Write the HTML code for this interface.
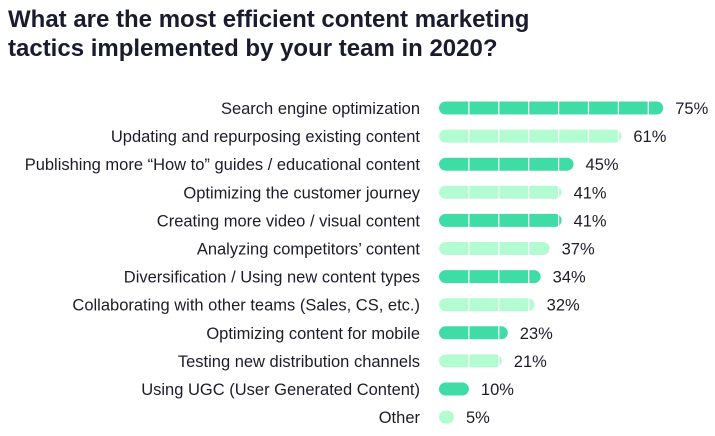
<!DOCTYPE html>
<html><head><meta charset="utf-8"><style>
body{margin:0;width:715px;height:436px;background:#fff;font-family:"Liberation Sans",sans-serif;color:#1c1c2c;overflow:hidden;position:relative}
h1{position:absolute;left:8px;top:5px;margin:0;font-size:24px;font-weight:bold;line-height:29px;color:#191b2e;letter-spacing:0px}
</style></head><body>
<h1>What are the most efficient content marketing<br>tactics implemented by your team in 2020?</h1>
<svg id="c" width="715" height="436" style="position:absolute;left:0;top:0"></svg>
<script>
const categories=["Search engine optimization","Updating and repurposing existing content","Publishing more \u201cHow to\u201d guides / educational content","Optimizing the customer journey","Creating more video / visual content","Analyzing competitors\u2019 content","Diversification / Using new content types","Collaborating with other teams (Sales, CS, etc.)","Optimizing content for mobile","Testing new distribution channels","Using UGC (User Generated Content)","Other"];
const values=[75,61,45,41,41,37,34,32,23,21,10,5];
const valueLabels=["75%","61%","45%","41%","41%","37%","34%","32%","23%","21%","10%","5%"];
const svg=document.getElementById('c');const NS="http://www.w3.org/2000/svg";
const x0=439,pxPer=2.99,y0=108,step=28.1,bh=13;
const xs=v=>v*pxPer, ys=i=>y0+i*step;
function mk(t,a){const e=document.createElementNS(NS,t);for(const k in a)e.setAttribute(k,a[k]);svg.appendChild(e);return e;}
categories.forEach((c,i)=>{
 const y=ys(i),w=xs(values[i]),col=i%2?"#b3fcd2":"#40dca6";
 const l=mk('text',{x:420,y:y+6,'text-anchor':'end','font-size':16.5,fill:'#1c1c2c'});l.textContent=c;
 
 
 const b=mk('rect',{x:x0,y:y-bh/2,width:w,height:bh,rx:bh/2,fill:col});
 
 
 for(let g=10;g<values[i];g+=10){const gx=x0+xs(g);mk('line',{x1:gx,x2:gx,y1:y-bh/2,y2:y+bh/2,stroke:'#fff','stroke-width':1.2});}
 const v=mk('text',{x:x0+w+12,y:y+6,'font-size':16.5,fill:'#1c1c2c'});v.textContent=valueLabels[i];
 
 
});
</script>
</body></html>
